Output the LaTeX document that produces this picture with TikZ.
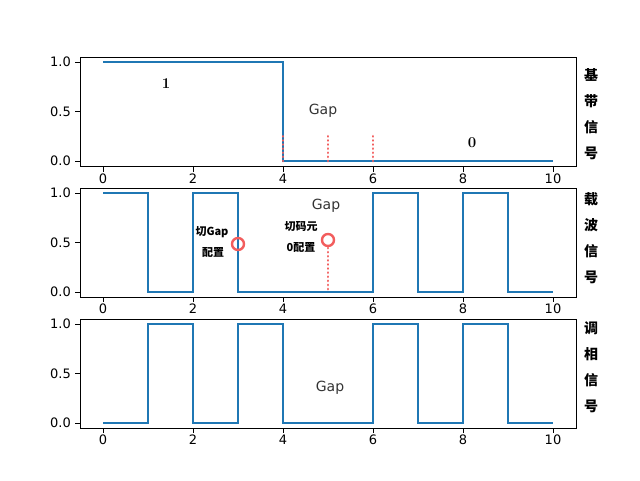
\documentclass[tikz,border=0pt]{standalone}
\usepackage{fontspec}
\setsansfont{DejaVu Sans}
\newfontfamily\cjk{Noto Sans CJK SC}
\definecolor{mplblue}{HTML}{1F77B4}
\definecolor{mplred}{HTML}{F04040}
\begin{document}
\begin{tikzpicture}[x=1pt,y=-1pt,
  sig/.style={mplblue,line width=1.7pt},
  frame/.style={black,line width=0.9pt},
  tick/.style={font=\sffamily\fontsize{13}{14}\selectfont},
  side/.style={font=\cjk\bfseries\fontsize{14}{15}\selectfont},
  ann/.style={font=\cjk\bfseries\fontsize{11}{12}\selectfont},
  gap/.style={font=\sffamily\fontsize{14}{15}\selectfont,text=black!80},
  reddot/.style={mplred!85,line width=2.8pt,line cap=round,dash pattern=on 0.1pt off 4pt},
  ring/.style={draw=mplred!85,line width=2.4pt,circle,minimum size=12pt,inner sep=0pt}]
\useasboundingbox (0,0) rectangle (640,480);
\foreach \top/\one/\zero/\nm in {57.5/62/161/a,188/193/292/b,319/324/423/c}{
  \draw[frame] (80,\top) rectangle (576,\top+109);
  \foreach \v in {0,2,...,10}{
    \draw[frame] (103+45*\v,\top+109) -- (103+45*\v,\top+114);
    \node[tick,anchor=north,inner sep=1pt] at (103+45*\v,\top+115) {\v};}
  \foreach \v/\l in {0/0.0,0.5/0.5,1/1.0}{
    \draw[frame] (80,\zero-99*\v) -- (75,\zero-99*\v);
    \node[tick,anchor=east,inner sep=1pt] at (72,\zero-99*\v) {\l};}
}
% panel 1
\draw[sig] (103,62) -- (283,62) -- (283,161) -- (553,161);
\foreach \v in {4,5,6}{\draw[reddot] (103+45*\v,161) -- (103+45*\v,134);}
\node[font=\bfseries\fontsize{15}{16}\selectfont] at (166,84) {1};
\node[gap] at (323,111) {Gap};
\node[font=\bfseries\fontsize{15}{16}\selectfont] at (472,143) {0};
% panel 2
\draw[sig] (103,193) -- (148,193) -- (148,292) -- (193,292) -- (193,193) -- (238,193) -- (238,292) -- (373,292) -- (373,193) -- (418,193) -- (418,292) -- (463,292) -- (463,193) -- (508,193) -- (508,292) -- (553,292);
\draw[reddot] (328,248) -- (328,290);
\node[ring] (r1) at (238,244) {};
\node[ring] (r2) at (328,240) {};
\node[gap] at (326,206) {Gap};
\node[ann,fill=white,inner sep=1pt] at (212,232) {切Gap};
\node[ann] at (213,252) {配置};
\node[ann] at (301,227) {切码元};
\node[ann] at (301,247) {0配置};
% panel 3
\draw[sig] (103,423) -- (148,423) -- (148,324) -- (193,324) -- (193,423) -- (238,423) -- (238,324) -- (283,324) -- (283,423) -- (373,423) -- (373,324) -- (418,324) -- (418,423) -- (463,423) -- (463,324) -- (508,324) -- (508,423) -- (553,423);
\node[gap] at (330,388) {Gap};
% side labels
\foreach \t/\ch in {75/基,101/带,127/信,153/号,199/载,225/波,251/信,277/号,328/调,354/相,380/信,406/号}{
  \node[side] at (591,\t) {\ch};}
\end{tikzpicture}
\end{document}
